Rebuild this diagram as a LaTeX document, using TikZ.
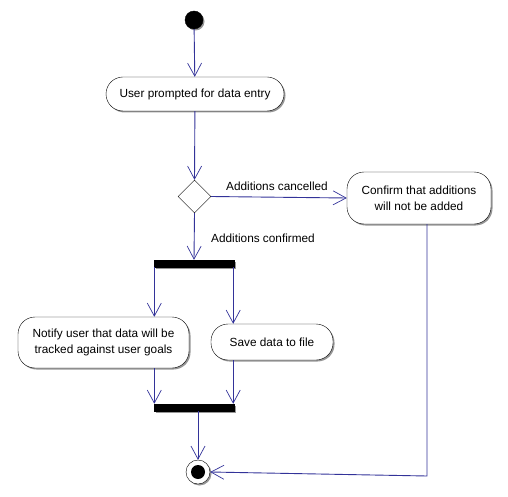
\documentclass[tikz,border=0pt]{standalone}
\usepackage{fontspec}
\setmainfont{Liberation Sans}
\usetikzlibrary{arrows.meta,shapes.geometric,shadows,calc}
\definecolor{flow}{RGB}{51,51,153}
\definecolor{shade}{RGB}{150,150,150}
\tikzset{
  sh/.style={drop shadow={shadow xshift=1.5pt,shadow yshift=-1.5pt,fill=shade,opacity=1}},
  act/.style={draw=black,fill=white,rounded corners=17pt,sh,align=center,inner sep=0pt,
    font=\fontsize{11.8}{16}\selectfont},
  bar/.style={draw=black,fill=black,minimum width=80pt,minimum height=7pt,inner sep=0pt,sh},
  flowline/.style={draw=flow,line width=0.9pt},
  flowarrow/.style={flowline,-{Straight Barb[length=13pt,width=14pt,line width=0.7pt]}},
  lbl/.style={font=\fontsize{11.8}{13}\selectfont,inner sep=0pt}
}
\begin{document}
\begin{tikzpicture}[x=1pt,y=-1pt]
\useasboundingbox (0,0) rectangle (508,497);
\node[circle,fill=black,draw=black,minimum size=18pt,inner sep=0pt,sh] (start) at (194,20) {};
\node[act,minimum width=178pt,minimum height=34pt] (prompt) at (195,94) {User prompted for data entry};
\node[diamond,draw=black,fill=white,minimum width=33pt,minimum height=33pt,inner sep=0pt] (dec) at (194.5,196.5) {};
\node[act,minimum width=144pt,minimum height=52pt] (confirm) at (419,198) {Confirm that additions\\will not be added};
\node[bar] (fork) at (194,263.5) {};
\node[act,minimum width=171pt,minimum height=51pt] (notify) at (103.5,342.5) {Notify user that data will be\\tracked against user goals};
\node[act,minimum width=122pt,minimum height=36pt] (save) at (272,342) {Save data to file};
\node[bar] (join) at (194,407.5) {};
\node[circle,fill=white,draw=black,minimum size=24pt,inner sep=0pt,sh] (final) at (198,472) {};
\node[circle,fill=black,minimum size=14pt,inner sep=0pt] (finalin) at (198,472) {};
\coordinate (cdown) at (427,224);
\coordinate (ccorner) at (427,476);

\draw[flowarrow] (start) -- (prompt);
\draw[flowarrow] (prompt) -- (dec.north);
\draw[flowarrow] (dec.east) -- (confirm.west);
\node[lbl] (lc) at (277,186) {Additions cancelled};
\draw[flowarrow] (dec.south) -- (fork.north);
\node[lbl] (lf) at (263,238) {Additions confirmed};
\draw[flowarrow] ([xshift=0.5pt]fork.south west) -- ([xshift=0.5pt]fork.south west |- notify.north);
\draw[flowarrow] ([xshift=-1pt]fork.south east) -- ([xshift=-1pt]fork.south east |- save.north);
\draw[flowarrow] (notify.south -| join.north west) ++(0.5,0) -- ([xshift=0.5pt]join.north west);
\draw[flowarrow] (save.south -| join.north east) ++(-1,0) -- ([xshift=-1pt]join.north east);
\draw[flowarrow] (join.south -| final.north) -- (final.north);
\draw[flowarrow] (cdown) -- (ccorner) -- (final.east);
\end{tikzpicture}
\end{document}
